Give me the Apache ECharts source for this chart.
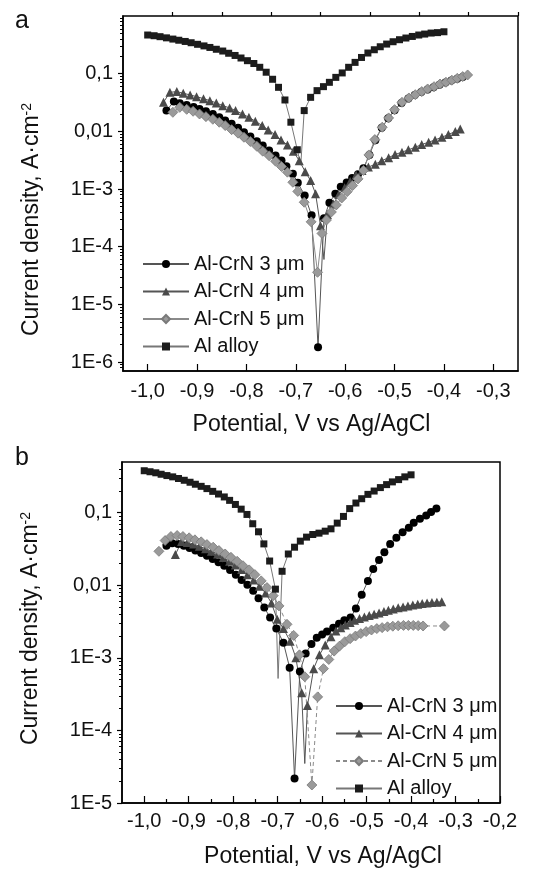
<!DOCTYPE html>
<html>
<head>
<meta charset="utf-8">
<title>Polarization curves Al-CrN</title>
<script src="https://cdn.jsdelivr.net/npm/echarts@6/dist/echarts.min.js"></script>
<style>
  html, body { margin: 0; padding: 0; background: #fff; }
  #chart { width: 558px; height: 869px; }
</style>
</head>
<body>
<div id="chart"></div>
<script>
// ---- panel a data (potential V vs Ag/AgCl, current density A/cm2) ----
const aAlloyV = [-1.000, -0.987, -0.975, -0.962, -0.949, -0.937, -0.924, -0.912, -0.899, -0.886, -0.874, -0.861, -0.848, -0.836, -0.823, -0.811, -0.798, -0.785, -0.773, -0.760, -0.747, -0.735, -0.722, -0.710, -0.697,
  -0.683, -0.670, -0.657, -0.644, -0.632, -0.619, -0.606, -0.593, -0.580, -0.567, -0.554, -0.541, -0.529, -0.516, -0.503, -0.490, -0.477, -0.464, -0.451, -0.439, -0.426, -0.413, -0.400]
const aAlloyI = [0.468, 0.455, 0.438, 0.418, 0.398, 0.38, 0.362, 0.344, 0.323, 0.303, 0.285, 0.265, 0.247, 0.226, 0.207, 0.187, 0.168, 0.150, 0.129, 0.106, 0.080, 0.058, 0.035, 0.0144, 0.0048,
  0.0229, 0.0389, 0.0508, 0.0596, 0.0708, 0.0863, 0.103, 0.129, 0.157, 0.191, 0.228, 0.260, 0.293, 0.326, 0.358, 0.388, 0.415, 0.442, 0.468, 0.486, 0.506, 0.515, 0.533]
const aAlloyDipV = [-0.690]
const aAlloyDipI = [0.0026]

const a3V = [-0.962, -0.947, -0.935, -0.921, -0.907, -0.895, -0.882, -0.868, -0.855, -0.843, -0.830, -0.817, -0.805, -0.792, -0.779, -0.767, -0.754, -0.741, -0.729, -0.719, -0.706, -0.696, -0.682, -0.668, -0.655,
  -0.643, -0.632, -0.620, -0.609, -0.597, -0.586, -0.574, -0.563, -0.551, -0.539, -0.526, -0.513, -0.500, -0.486, -0.472, -0.459, -0.446, -0.433, -0.421, -0.409, -0.397, -0.385, -0.373, -0.362]
const a3I = [0.0229, 0.0328, 0.0307, 0.0287, 0.0265, 0.0245, 0.0223, 0.0200, 0.0175, 0.0154, 0.0135, 0.0115, 0.00966, 0.00813, 0.00675, 0.00568, 0.00466, 0.00381, 0.00313, 0.00249, 0.00184, 0.00129, 0.00077, 0.00035, 0.0000018,
  0.00031, 0.00058, 0.00083, 0.0011, 0.0013, 0.00155, 0.0018, 0.0023, 0.0039, 0.0070, 0.0115, 0.0168, 0.0232, 0.031, 0.037, 0.0425, 0.048, 0.053, 0.058, 0.064, 0.070, 0.076, 0.082, 0.088]

const a4V = [-0.968, -0.955, -0.941, -0.928, -0.914, -0.901, -0.887, -0.874, -0.861, -0.848, -0.834, -0.822, -0.808, -0.795, -0.782, -0.768, -0.756, -0.742, -0.730, -0.717, -0.705, -0.693, -0.681, -0.670, -0.660, -0.650,
  -0.636, -0.624, -0.613, -0.601, -0.590, -0.578, -0.566, -0.553, -0.539, -0.526, -0.512, -0.499, -0.485, -0.472, -0.458, -0.445, -0.431, -0.418, -0.404, -0.391, -0.377, -0.367]
const a4I = [0.0319, 0.0475, 0.0489, 0.0457, 0.0428, 0.040, 0.0369, 0.0341, 0.0311, 0.0279, 0.0255, 0.0229, 0.0200, 0.0175, 0.0150, 0.0126, 0.0106, 0.0088, 0.0071, 0.0058, 0.0045, 0.0031, 0.0020, 0.0014, 0.00083, 0.00023,
  0.00036, 0.00055, 0.0008, 0.00105, 0.00135, 0.00175, 0.0021, 0.0024, 0.0027, 0.0031, 0.0035, 0.00397, 0.00436, 0.00478, 0.00531, 0.00591, 0.00648, 0.00711, 0.00791, 0.00881, 0.00993, 0.0110]
const a4DipV = [-0.643]
const a4DipI = [0.00006]

const a5V = [-0.949, -0.935, -0.921, -0.908, -0.895, -0.882, -0.868, -0.855, -0.843, -0.830, -0.817, -0.805, -0.792, -0.779, -0.767, -0.754, -0.741, -0.729, -0.717, -0.706, -0.696, -0.683, -0.669, -0.656,
  -0.647, -0.638, -0.628, -0.618, -0.607, -0.596, -0.585, -0.574, -0.563, -0.552, -0.540, -0.525, -0.512, -0.500, -0.485, -0.471, -0.458, -0.445, -0.433, -0.420, -0.408, -0.396, -0.384, -0.373, -0.362, -0.352]
const a5I = [0.0214, 0.0261, 0.0241, 0.0223, 0.020, 0.018, 0.0162, 0.0144, 0.0126, 0.0107, 0.0093, 0.0079, 0.00667, 0.00552, 0.00453, 0.00377, 0.00304, 0.00246, 0.00196, 0.00131, 0.00091, 0.00059, 0.00027, 0.000036,
  0.00017, 0.00029, 0.0004, 0.00053, 0.0007, 0.0009, 0.00115, 0.0015, 0.0021, 0.0039, 0.0072, 0.0118, 0.0171, 0.0238, 0.0319, 0.0379, 0.0433, 0.0489, 0.0543, 0.0596, 0.0662, 0.071, 0.077, 0.083, 0.089, 0.095]

// ---- panel b data ----
const bAlloyV = [-1.000, -0.987, -0.974, -0.962, -0.949, -0.936, -0.923, -0.910, -0.897, -0.885, -0.872, -0.859, -0.846, -0.833, -0.820, -0.808, -0.795, -0.782, -0.769, -0.756, -0.743, -0.731, -0.718, -0.705,
  -0.690, -0.676, -0.662, -0.649, -0.635, -0.621, -0.607, -0.593, -0.580, -0.566, -0.552, -0.538, -0.524, -0.511, -0.497, -0.483, -0.469, -0.455, -0.442, -0.428, -0.414, -0.400]
const bAlloyI = [0.379, 0.367, 0.355, 0.339, 0.325, 0.312, 0.296, 0.280, 0.263, 0.247, 0.231, 0.215, 0.197, 0.181, 0.165, 0.148, 0.130, 0.112, 0.0947, 0.0705, 0.0546, 0.0372, 0.0216, 0.00885,
  0.0156, 0.0270, 0.0335, 0.0406, 0.0461, 0.0501, 0.0523, 0.0557, 0.0600, 0.0719, 0.0889, 0.114, 0.136, 0.156, 0.179, 0.199, 0.222, 0.244, 0.266, 0.286, 0.312, 0.333]
const bAlloyDipV = [-0.699]
const bAlloyDipI = [0.00052]

const b3V = [-0.950, -0.937, -0.924, -0.911, -0.898, -0.885, -0.872, -0.859, -0.846, -0.833, -0.820, -0.807, -0.794, -0.781, -0.768, -0.755, -0.743, -0.730, -0.717, -0.703, -0.687, -0.673, -0.662,
  -0.650, -0.637, -0.624, -0.612, -0.600, -0.589, -0.575, -0.562, -0.550, -0.536, -0.524, -0.511, -0.497, -0.485, -0.472, -0.460, -0.447, -0.433, -0.419, -0.405, -0.394, -0.380, -0.366, -0.355, -0.343]
const b3I = [0.0352, 0.0380, 0.0372, 0.0352, 0.0327, 0.0301, 0.0279, 0.0256, 0.0231, 0.0207, 0.0186, 0.0163, 0.0140, 0.0118, 0.0102, 0.0084, 0.00665, 0.00494, 0.00359, 0.00253, 0.00162, 0.00073, 0.0000218,
  0.00065, 0.00115, 0.00155, 0.0019, 0.0021, 0.0023, 0.0026, 0.00295, 0.0033, 0.0036, 0.0048, 0.0074, 0.0115, 0.0168, 0.0223, 0.0285, 0.0372, 0.0451, 0.054, 0.062, 0.0727, 0.0826, 0.0918, 0.102, 0.114]

const b4V = [-0.930, -0.916, -0.903, -0.889, -0.876, -0.862, -0.849, -0.835, -0.822, -0.808, -0.795, -0.781, -0.768, -0.754, -0.741, -0.727, -0.714, -0.701, -0.687, -0.672, -0.659, -0.646, -0.633,
  -0.619, -0.606, -0.593, -0.580, -0.569, -0.558, -0.548, -0.537, -0.527, -0.516, -0.505, -0.494, -0.483, -0.472, -0.461, -0.451, -0.440, -0.429, -0.418, -0.407, -0.396, -0.385, -0.375, -0.364, -0.353, -0.342, -0.331]
const b4I = [0.0265, 0.040, 0.039, 0.037, 0.0345, 0.032, 0.0295, 0.027, 0.0242, 0.0215, 0.019, 0.0165, 0.014, 0.0118, 0.0097, 0.0078, 0.0057, 0.0034, 0.00253, 0.0017, 0.0010, 0.00033, 0.00022,
  0.00071, 0.0011, 0.0015, 0.00195, 0.00234, 0.00261, 0.00284, 0.00306, 0.0033, 0.00348, 0.00367, 0.00383, 0.00399, 0.00416, 0.00435, 0.00454, 0.00473, 0.00489, 0.00504, 0.0052, 0.00537, 0.00549, 0.00561, 0.00572, 0.0058, 0.00585, 0.00591]
const b4DipV = [-0.639]
const b4DipI = [0.000035]

const b5V = [-0.967, -0.953, -0.940, -0.926, -0.913, -0.899, -0.886, -0.872, -0.859, -0.845, -0.832, -0.818, -0.805, -0.791, -0.778, -0.764, -0.751, -0.737, -0.724, -0.710, -0.697, -0.679, -0.664, -0.651, -0.639, -0.623,
  -0.610, -0.597, -0.585, -0.573, -0.561, -0.549, -0.537, -0.525, -0.513, -0.501, -0.489, -0.477, -0.465, -0.453, -0.441, -0.429, -0.417, -0.406, -0.395, -0.384, -0.373, -0.325]
const b5I = [0.0294, 0.0414, 0.0470, 0.0485, 0.0470, 0.0451, 0.0423, 0.0397, 0.0364, 0.0335, 0.0301, 0.0270, 0.0243, 0.0214, 0.0186, 0.0163, 0.0140, 0.0115, 0.0093, 0.0072, 0.0052, 0.0029, 0.00204, 0.0011, 0.00055, 0.0000177,
  0.00029, 0.00071, 0.00095, 0.00124, 0.00145, 0.00167, 0.00184, 0.0020, 0.00216, 0.0023, 0.00242, 0.00253, 0.00261, 0.00268, 0.00273, 0.00277, 0.0028, 0.0028, 0.0028, 0.00278, 0.00275, 0.00275]

// ---- axis ticks ----
const aXMajor = [-1.0, -0.9, -0.8, -0.7, -0.6, -0.5, -0.4, -0.3]
const aXMinor = [-0.95, -0.85, -0.75, -0.65, -0.55, -0.45, -0.35, -0.25]
const bXMajor = [-1.0, -0.9, -0.8, -0.7, -0.6, -0.5, -0.4, -0.3, -0.2]
const bXMinor = [-0.95, -0.85, -0.75, -0.65, -0.55, -0.45, -0.35, -0.25]
const seriesNames = ['Al-CrN 3 μm', 'Al-CrN 4 μm', 'Al-CrN 5 μm', 'Al alloy']

const FONT = 'Liberation Sans, Arial, sans-serif'

// marker looks for each curve
const marks = [
  { symbol: 'circle', size: 8, fill: '#000', stroke: null, line: '#555' },
  { symbol: 'triangle', size: 9, fill: '#4a4a4a', stroke: null, line: '#555' },
  { symbol: 'diamond', size: 10, fill: '#9a9a9a', stroke: '#7a7a7a', line: '#8a8a8a' },
  { symbol: 'rect', size: 7, fill: '#1c1c1c', stroke: null, line: '#777' }
]

function buildData(v, i, dipV, dipI) {
  const pts = v.map((x, k) => ({ value: [x, i[k]] }))
  ;(dipV || []).forEach((x, k) => pts.push({ value: [x, dipI[k]], symbol: 'none' }))
  pts.sort((p, q) => p.value[0] - q.value[0])
  return pts
}

function makeSeries(idx, data, panel, dashed) {
  const m = marks[idx]
  return {
    name: seriesNames[idx],
    type: 'line',
    xAxisIndex: panel * 2,
    yAxisIndex: panel * 2,
    data: data,
    symbol: m.symbol,
    symbolSize: m.size,
    showAllSymbol: true,
    itemStyle: { color: m.fill, borderColor: m.stroke || m.fill, borderWidth: m.stroke ? 0.8 : 0 },
    lineStyle: { color: m.line, width: 1, type: dashed ? [4, 3] : 'solid' },
    emphasis: { disabled: true }
  }
}

function formatLog(v) {
  const e = Math.log10(v)
  const k = Math.round(e)
  if (Math.abs(e - k) > 0.01 || k >= 0) return ''
  if (k === -1) return '0,1'
  if (k === -2) return '0,01'
  return '1E' + k
}

function minorLogTicks(min, max) {
  const out = []
  for (let e = Math.floor(Math.log10(min)); e <= Math.ceil(Math.log10(max)); e++) {
    for (let m = 2; m <= 9; m++) {
      const l = e + Math.log10(m)
      if (l > Math.log10(min) && l < Math.log10(max)) out.push(l)
    }
  }
  return out
}

function xAxes(grid, min, max, majors, minors, margin, gap, namePad) {
  return [
    {
      type: 'value', gridIndex: grid, position: 'bottom', min: min, max: max,
      axisLine: { show: true, onZero: false, lineStyle: { color: '#000', width: 1.5 } },
      axisTick: { show: true, inside: true, length: 7, customValues: majors, lineStyle: { color: '#000', width: 1.2 } },
      axisLabel: { customValues: majors, margin: margin, fontSize: 20, color: '#111', fontFamily: FONT,
        formatter: v => v.toFixed(1).replace('.', ',') },
      splitLine: { show: false },
      name: 'Potential, V vs Ag/AgCl', nameLocation: 'middle', nameGap: gap,
      nameTextStyle: { fontSize: 23, color: '#111', fontFamily: FONT, padding: namePad }
    },
    {
      type: 'value', gridIndex: grid, position: 'bottom', min: min, max: max,
      axisLine: { show: false },
      axisTick: { show: true, inside: true, length: 4, customValues: minors, lineStyle: { color: '#000', width: 1.2 } },
      axisLabel: { show: false },
      splitLine: { show: false }
    }
  ]
}

function yAxes(grid, min, max, showMin, namePad) {
  return [
    {
      type: 'log', logBase: 10, gridIndex: grid, position: 'left', min: min, max: max,
      axisLine: { show: true, onZero: false, lineStyle: { color: '#000', width: 1.5 } },
      axisTick: { show: true, inside: false, length: 5, lineStyle: { color: '#000', width: 1.2 } },
      axisLabel: { margin: 10, fontSize: 20, color: '#111', fontFamily: FONT, formatter: formatLog,
        showMinLabel: showMin, showMaxLabel: false },
      splitLine: { show: false },
      name: 'Current density, A·cm{s|-2}', nameLocation: 'middle', nameGap: 80, nameRotate: 90,
      nameTextStyle: { fontSize: 23, color: '#111', fontFamily: FONT, padding: namePad,
        rich: { s: { fontSize: 14, color: '#111', fontFamily: FONT, verticalAlign: 'top' } } }
    },
    {
      type: 'value', gridIndex: grid, position: 'left', min: Math.log10(min), max: Math.log10(max),
      axisLine: { show: false },
      axisTick: { show: true, inside: false, length: 3, customValues: minorLogTicks(min, max), lineStyle: { color: '#000', width: 1 } },
      axisLabel: { show: false },
      splitLine: { show: false }
    }
  ]
}

function legendFor(left, top, dashFive) {
  return {
    orient: 'vertical', left: left, top: top,
    itemWidth: 46, itemHeight: 10, itemGap: 7.5,
    selectedMode: false,
    textStyle: { fontSize: 20, lineHeight: 20, color: '#111', fontFamily: FONT },
    data: seriesNames.map(n => (dashFive && n === 'Al-CrN 5 μm') ? { name: n, lineStyle: { type: [4, 3] } } : { name: n })
  }
}

const chart = echarts.init(document.getElementById('chart'))

const option = {
  animation: false,
  backgroundColor: '#fff',
  graphic: [
    { type: 'text', left: 15, top: 9, style: { text: 'a', fontSize: 25, fill: '#111', fontFamily: FONT } },
    { type: 'text', left: 15, top: 446, style: { text: 'b', fontSize: 25, fill: '#111', fontFamily: FONT } }
  ],
  grid: [
    { left: 123, top: 16, width: 395, height: 355, show: true, borderColor: '#000', borderWidth: 1.5, backgroundColor: 'transparent' },
    { left: 122, top: 462, width: 378, height: 341, show: true, borderColor: '#000', borderWidth: 1.5, backgroundColor: 'transparent' }
  ],
  xAxis: [].concat(
    xAxes(0, -1.05, -0.25, aXMajor, aXMinor, 10, 42, [0, 18, 0, 0]),
    xAxes(1, -1.05, -0.2, bXMajor, bXMinor, 8, 42, [0, 0, 0, 24])
  ),
  yAxis: [].concat(
    yAxes(0, 0.0000007, 1, false, [0, 52, 0, 0]),
    yAxes(1, 0.00001, 0.5, true, [0, 0, 0, 8])
  ),
  legend: [legendFor(137, 249, false), legendFor(330, 691, true)],
  series: [
    makeSeries(0, buildData(a3V, a3I), 0),
    makeSeries(1, buildData(a4V, a4I, a4DipV, a4DipI), 0),
    makeSeries(2, buildData(a5V, a5I), 0),
    makeSeries(3, buildData(aAlloyV, aAlloyI, aAlloyDipV, aAlloyDipI), 0),
    makeSeries(0, buildData(b3V, b3I), 1),
    makeSeries(1, buildData(b4V, b4I, b4DipV, b4DipI), 1),
    makeSeries(2, buildData(b5V, b5I), 1, true),
    makeSeries(3, buildData(bAlloyV, bAlloyI, bAlloyDipV, bAlloyDipI), 1)
  ]
}

chart.setOption(option)
</script>
</body>
</html>
